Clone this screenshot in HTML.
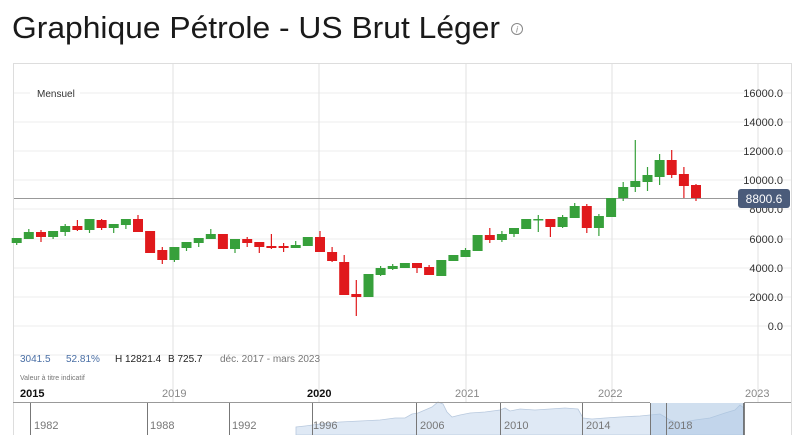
<!DOCTYPE html>
<html><head><meta charset="utf-8"><style>
body{margin:0;background:#fff;width:806px;height:435px;overflow:hidden;font-family:"Liberation Sans",sans-serif}
</style></head><body>
<svg width="806" height="435" viewBox="0 0 806 435" xmlns="http://www.w3.org/2000/svg" font-family="Liberation Sans, sans-serif">
<text x="12" y="38" font-size="31" fill="#1a1a1a" textLength="488" lengthAdjust="spacingAndGlyphs">Graphique Pétrole - US Brut Léger</text>
<circle cx="517" cy="29" r="5.5" fill="none" stroke="#888" stroke-width="1"/>
<text x="517" y="32.5" font-size="9" fill="#888" text-anchor="middle" font-style="italic">i</text>
<rect x="13.5" y="63.5" width="778" height="372" fill="none" stroke="#ddd"/>
<g stroke="#eee">
<line x1="14" x2="791" y1="93" y2="93"/><line x1="14" x2="791" y1="122" y2="122"/><line x1="14" x2="791" y1="151" y2="151"/><line x1="14" x2="791" y1="180" y2="180"/><line x1="14" x2="791" y1="209" y2="209"/><line x1="14" x2="791" y1="239" y2="239"/><line x1="14" x2="791" y1="268" y2="268"/><line x1="14" x2="791" y1="297" y2="297"/><line x1="14" x2="791" y1="326" y2="326"/><line x1="14" x2="791" y1="355" y2="355"/>
</g>
<g stroke="#e2e2e2">
<line x1="173" x2="173" y1="64" y2="402"/><line x1="319" x2="319" y1="64" y2="402"/><line x1="466" x2="466" y1="64" y2="402"/><line x1="612" x2="612" y1="64" y2="402"/><line x1="758" x2="758" y1="64" y2="402"/>
</g>
<rect x="30" y="86" width="50" height="14" fill="#fff"/>
<text x="37" y="97" font-size="10" fill="#333">Mensuel</text>
<g font-size="11" fill="#333" text-anchor="end">
<text x="783" y="97">16000.0</text><text x="783" y="126">14000.0</text><text x="783" y="155">12000.0</text><text x="783" y="184">10000.0</text><text x="783" y="213">8000.0</text><text x="783" y="243">6000.0</text><text x="783" y="272">4000.0</text><text x="783" y="301">2000.0</text><text x="783" y="330">0.0</text>
</g>
<line x1="14" x2="740" y1="198.5" y2="198.5" stroke="#999"/>
<rect x="738" y="189" width="52" height="19" rx="3" fill="#4a5b7a"/>
<text x="764" y="203" font-size="12" fill="#fff" text-anchor="middle">8800.6</text>
<path stroke="#37a03b" stroke-width="1.2" fill="none" d="M16.7 238V245M28.8 229V239M53.1 231V239M65.2 224V236M89.5 219V233M113.7 224V233M125.9 219V229M174.4 247V262M186.5 242V251M198.7 238V247M210.8 229V239M235 239V253M295.7 241V248M307.8 237V246M368.5 274V297M380.6 266V276M392.7 264V270M404.9 263V268M441.3 260V276M453.4 255V261M465.5 248V257M477.6 235V251M501.9 231V242M514 228V237M526.2 219V229M538.3 215V232M562.6 215V228M574.7 203V218M598.9 214V236M611.1 198V217M623.2 182V201M635.3 140V192M647.5 167V191M659.6 154V185"/>
<path fill="#37a03b" d="M11.7 238h10V243h-10ZM23.8 232h10V239h-10ZM48.1 231h10V237h-10ZM60.2 226h10V232h-10ZM84.5 219h10V230h-10ZM108.7 224h10V228h-10ZM120.9 219h10V225h-10ZM169.4 247h10V260h-10ZM181.5 242h10V248h-10ZM193.7 238h10V243h-10ZM205.8 234h10V239h-10ZM230 239h10V249h-10ZM290.7 245h10V248h-10ZM302.8 237h10V246h-10ZM363.5 274h10V297h-10ZM375.6 268h10V275h-10ZM387.7 266h10V269h-10ZM399.9 263h10V268h-10ZM436.3 260h10V276h-10ZM448.4 255h10V261h-10ZM460.5 250h10V257h-10ZM472.6 235h10V251h-10ZM496.9 234h10V240h-10ZM509 228h10V234h-10ZM521.2 219h10V229h-10ZM533.3 219h10V220.5h-10ZM557.6 217h10V227h-10ZM569.7 206h10V218h-10ZM593.9 216h10V228h-10ZM606.1 198h10V217h-10ZM618.2 187h10V198h-10ZM630.3 181h10V187h-10ZM642.5 175h10V182h-10ZM654.6 160h10V177h-10Z"/>
<path stroke="#e0191c" stroke-width="1.2" fill="none" d="M41 230V242M77.4 220V231M101.6 219V230M138 215V232M150.1 231V253M162.3 247V264M222.9 234V249M247.2 237V247M259.3 242V253M271.4 234V249M283.6 243V252M320 231V252M332.1 247V262M344.2 255V295M356.3 280V316M417 263V273M429.1 265V275M489.8 228V243M550.4 219V237M586.8 204V233M671.7 150V178M683.9 167V198M696 184V201"/>
<path fill="#e0191c" d="M36 232h10V237h-10ZM72.4 226h10V230h-10ZM96.6 220h10V228h-10ZM133 219h10V232h-10ZM145.1 231h10V253h-10ZM157.3 250h10V260h-10ZM217.9 234h10V249h-10ZM242.2 239h10V243h-10ZM254.3 242h10V247h-10ZM266.4 246h10V248h-10ZM278.6 246h10V248h-10ZM315 237h10V252h-10ZM327.1 252h10V261h-10ZM339.2 262h10V295h-10ZM351.3 294h10V297h-10ZM412 263h10V268h-10ZM424.1 267h10V275h-10ZM484.8 235h10V240h-10ZM545.4 219h10V227h-10ZM581.8 206h10V228h-10ZM666.7 160h10V175h-10ZM678.9 174h10V186h-10ZM691 185h10V198h-10Z"/>
<g font-size="10">
<text x="20" y="362" fill="#4a6fa5">3041.5</text>
<text x="66" y="362" fill="#4a6fa5">52.81%</text>
<text x="115" y="362" fill="#222">H 12821.4</text>
<text x="168" y="362" fill="#222">B 725.7</text>
<text x="220" y="362" fill="#777">déc. 2017 - mars 2023</text>
<text x="20" y="380" font-size="7" fill="#777">Valeur à titre indicatif</text>
</g>
<g font-size="11">
<text x="20" y="397" fill="#111" font-weight="bold">2015</text>
<text x="162" y="397" fill="#888">2019</text>
<text x="307" y="397" fill="#111" font-weight="bold">2020</text>
<text x="455" y="397" fill="#888">2021</text>
<text x="598" y="397" fill="#888">2022</text>
<text x="745" y="397" fill="#888">2023</text>
</g>
<polygon points="296,435 296,427 305,426 320,424 340,422 360,421 380,420 395,418 405,418 412,414 418,413 425,410 432,407 438,402 443,404 447,412 452,417 460,415 470,413 485,412 500,410 505,408 510,411 520,409 535,410 550,409 565,408 578,409 583,418 592,419 605,418 620,417 640,416 650,415 660,414 670,420 680,423 695,420 710,418 725,413 735,410 740,405 744,408 744,435" fill="#dfe9f5" stroke="#b8c9de" stroke-width="0.8"/>
<rect x="650" y="403" width="94" height="32" fill="#a9c4e2" opacity="0.55"/>
<line x1="13" x2="650" y1="402.5" y2="402.5" stroke="#999"/>
<line x1="744" x2="791" y1="402.5" y2="402.5" stroke="#999"/>
<g stroke="#777">
<line x1="30.5" x2="30.5" y1="403" y2="435"/><line x1="147.5" x2="147.5" y1="403" y2="435"/><line x1="229.5" x2="229.5" y1="403" y2="435"/><line x1="312.5" x2="312.5" y1="403" y2="435"/><line x1="416.5" x2="416.5" y1="403" y2="435"/><line x1="500.5" x2="500.5" y1="403" y2="435"/><line x1="582.5" x2="582.5" y1="403" y2="435"/><line x1="650.5" x2="650.5" y1="403" y2="435"/><line x1="666.5" x2="666.5" y1="403" y2="435"/>
</g>
<line x1="744" x2="744" y1="403" y2="435" stroke="#555" stroke-width="1.5"/>
<g font-size="11" fill="#777">
<text x="34" y="429">1982</text><text x="150" y="429">1988</text><text x="232" y="429">1992</text><text x="313" y="429">1996</text><text x="420" y="429">2006</text><text x="504" y="429">2010</text><text x="586" y="429">2014</text><text x="668" y="429">2018</text>
</g>
</svg>
</body></html>
